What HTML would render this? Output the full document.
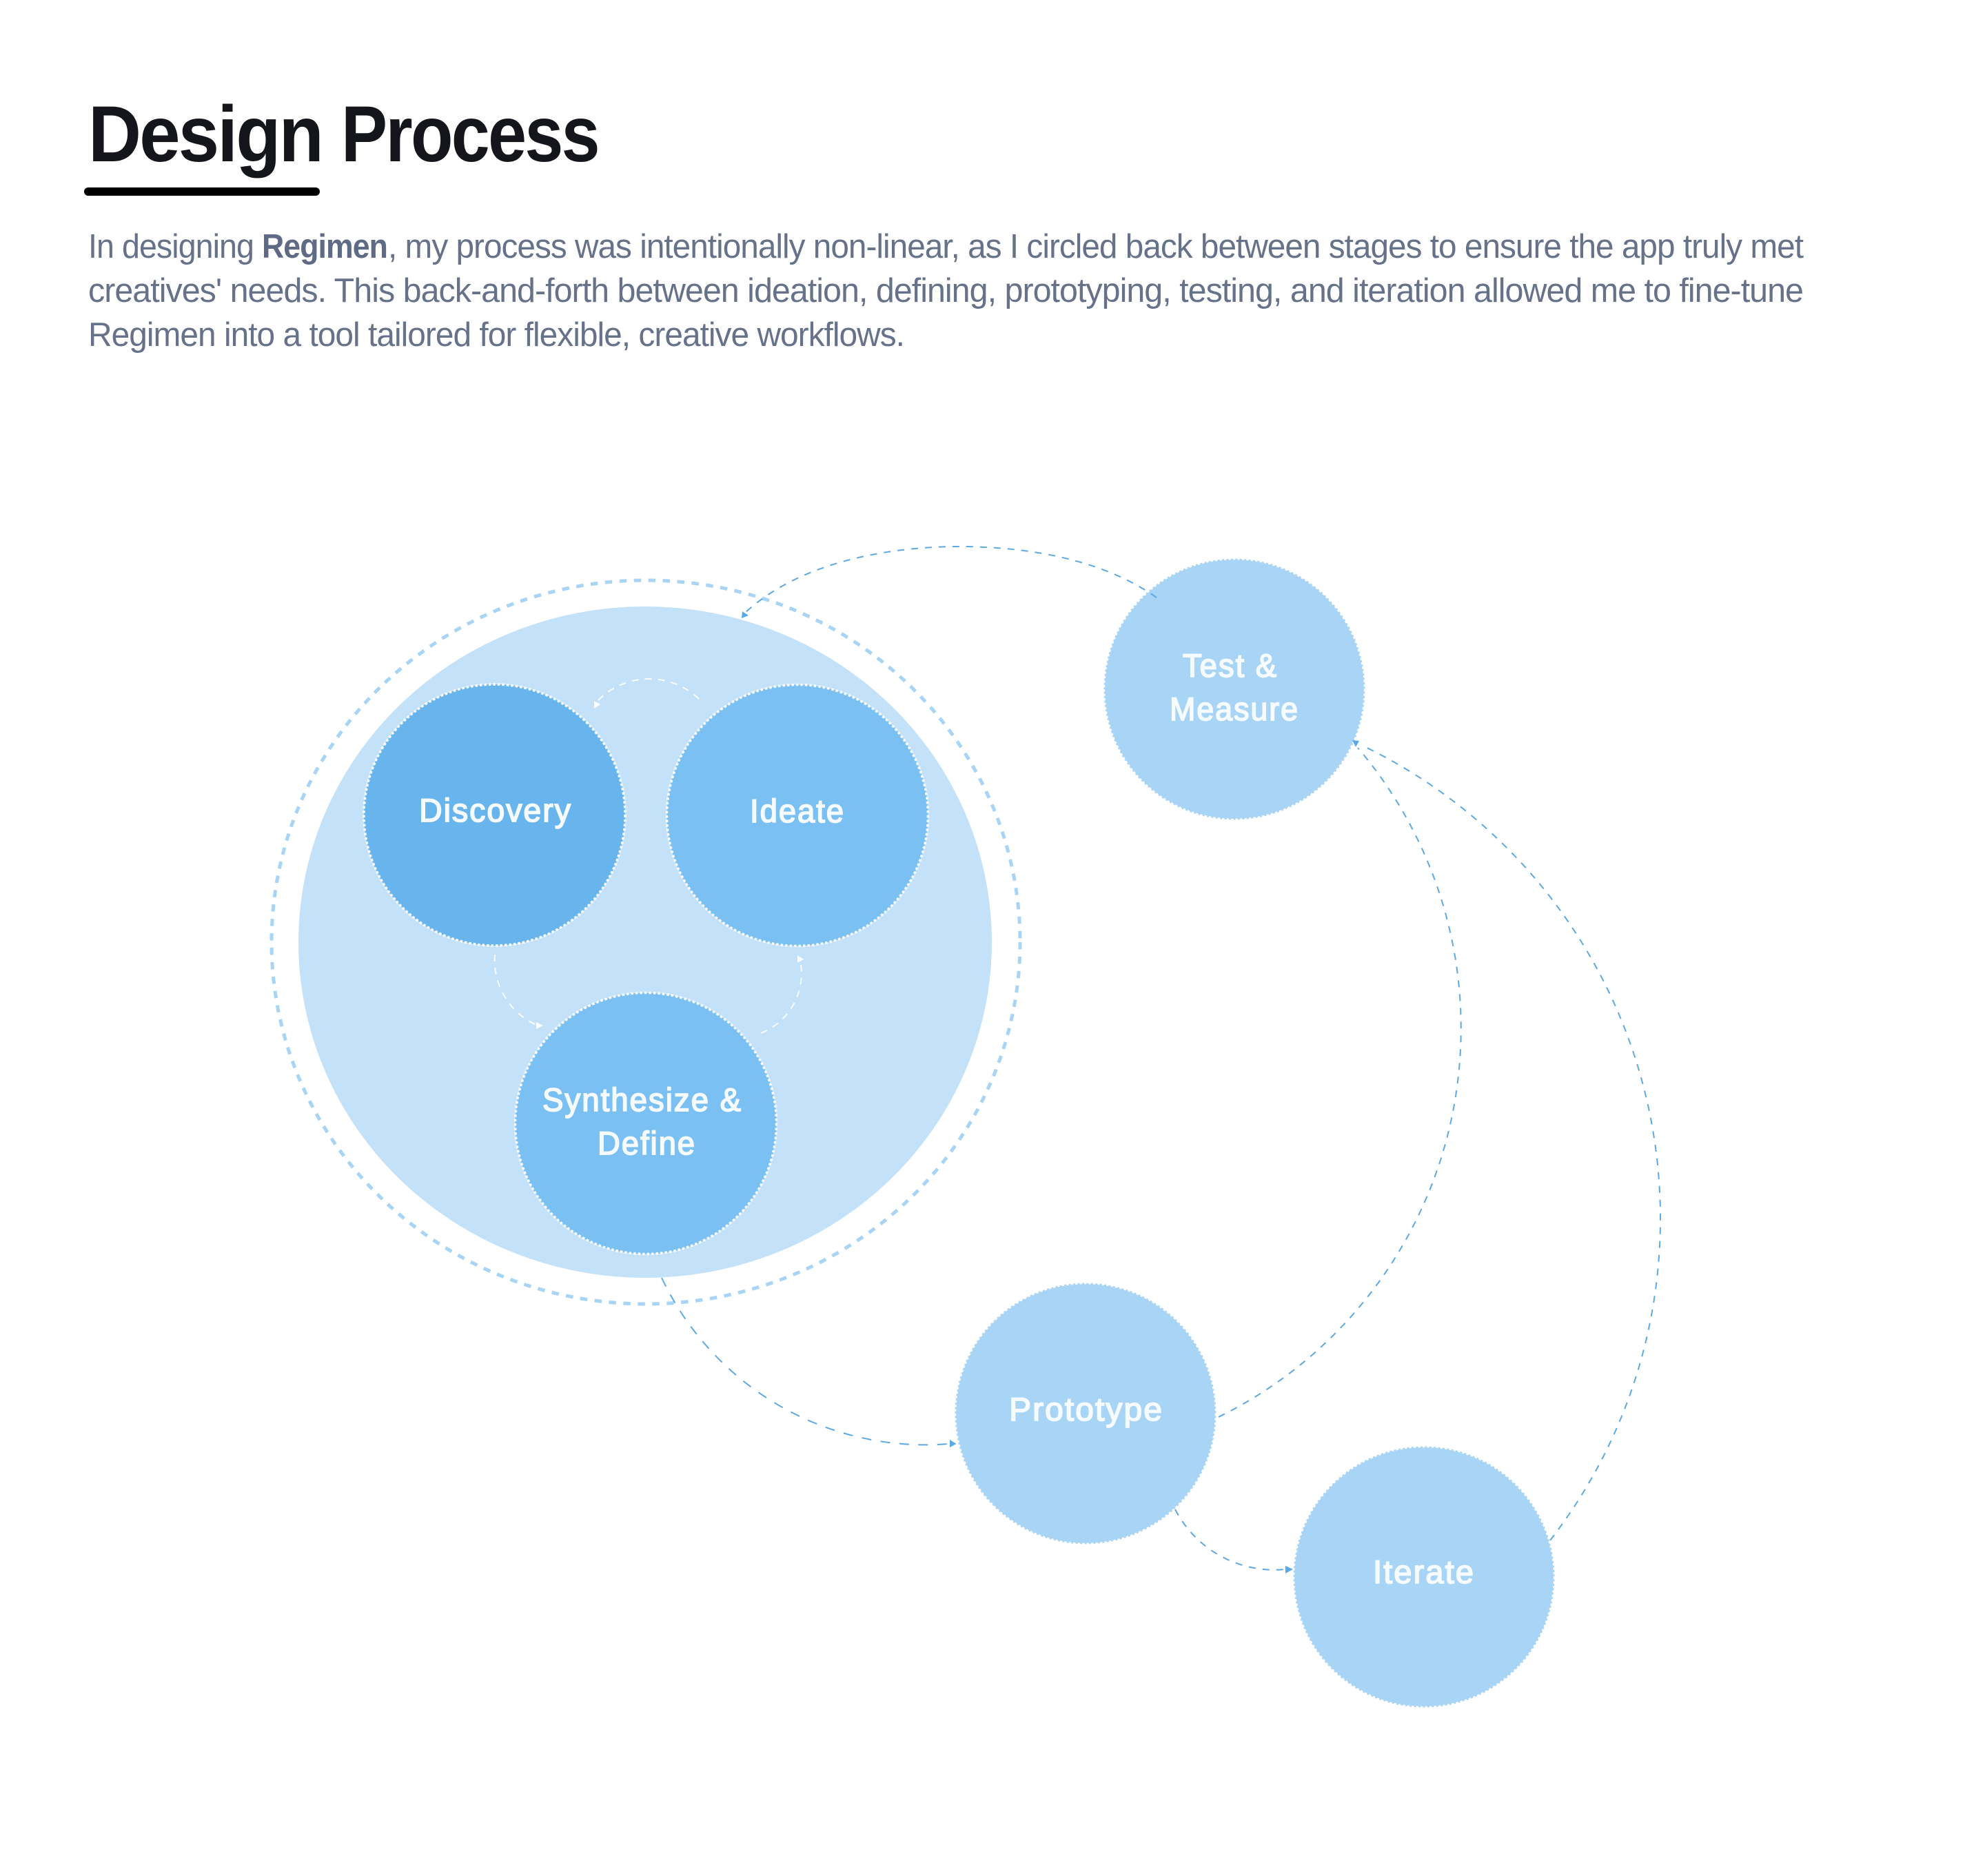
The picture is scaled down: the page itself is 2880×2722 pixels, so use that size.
<!DOCTYPE html>
<html>
<head>
<meta charset="utf-8">
<title>Design Process</title>
<style>
html,body{margin:0;padding:0;background:#fff;}
svg{display:block;}
text{font-family:"Liberation Sans",sans-serif;}
.t{font-size:115px;font-weight:700;fill:#14161b;letter-spacing:-3px;}
.p{font-size:49px;fill:#667289;letter-spacing:-1px;}
.b{font-weight:700;fill:#5f6b85;}
.l{font-size:47px;fill:#f6fbff;stroke:#f6fbff;stroke-width:1.7px;letter-spacing:2px;}
</style>
</head>
<body>
<svg xmlns="http://www.w3.org/2000/svg" width="2880" height="2722" viewBox="0 0 2880 2722">
<rect width="2880" height="2722" fill="#ffffff"/>

<text class="t" x="128" y="234" textLength="339" lengthAdjust="spacingAndGlyphs">Design</text>
<text class="t" x="495" y="234" textLength="373" lengthAdjust="spacingAndGlyphs">Process</text>
<rect x="122" y="272" width="342" height="12" rx="6" fill="#000"/>

<text class="p" x="128" y="374" textLength="240" lengthAdjust="spacingAndGlyphs">In designing</text>
<text class="p b" x="380" y="374" textLength="182" lengthAdjust="spacingAndGlyphs">Regimen</text>
<text class="p" x="563" y="374" textLength="2053" lengthAdjust="spacingAndGlyphs">, my process was intentionally non-linear, as I circled back between stages to ensure the app truly met</text>
<text class="p" x="128" y="438" textLength="2488" lengthAdjust="spacingAndGlyphs">creatives' needs. This back-and-forth between ideation, defining, prototyping, testing, and iteration allowed me to fine-tune</text>
<text class="p" x="128" y="502" textLength="1184" lengthAdjust="spacingAndGlyphs">Regimen into a tool tailored for flexible, creative workflows.</text>

<ellipse cx="937" cy="1367" rx="543" ry="525" fill="none" stroke="#a8d4f5" stroke-width="5" stroke-dasharray="10.5 10.5"/>
<ellipse cx="936" cy="1367" rx="503" ry="487" fill="#c3e2f9"/>

<g stroke="#ffffff" stroke-width="3.5" stroke-dasharray="3.5 3">
<circle cx="717.5" cy="1182.5" r="189.5" fill="#68b5ed"/>
<circle cx="1157" cy="1183" r="189.5" fill="#7ac0f2"/>
<circle cx="937" cy="1630" r="189.5" fill="#7ac0f2"/>
<circle cx="1791" cy="1000" r="189.5" fill="#a8d4f5"/>
<circle cx="1575" cy="2051" r="189.5" fill="#a8d4f5"/>
<circle cx="2066" cy="2288" r="189.5" fill="#a8d4f5"/>
</g>

<g fill="none" stroke="#5ca9e3" stroke-width="2" stroke-dasharray="10 10">
<path d="M1678 867 C1590 805 1470 792 1379 793 C1260 796 1150 825 1080 890"/>
<path d="M1768 2056 A628 628 0 0 0 1970 1085"/>
<path d="M2249 2235 A761 761 0 0 0 1975 1081"/>
<path d="M960 1854 A423 423 0 0 0 1376 2095" stroke-dasharray="14 13.5"/>
<path d="M1705 2190 A162 162 0 0 0 1865 2277"/>
</g>
<g fill="#58a9e8">
<polygon points="1077,887 1086,893 1076,897"/>
<polygon points="1378,2089 1387.5,2095 1378,2100"/>
<polygon points="1865,2272 1876,2277 1865,2283"/>
<polygon points="1962,1074 1972,1075 1967,1084"/>
</g>

<g fill="none" stroke="#ffffff" stroke-opacity="0.9" stroke-width="2" stroke-dasharray="10 9">
<path d="M1014 1014 A104 104 0 0 0 868 1016"/>
<path d="M718 1385 A103 103 0 0 0 778 1487"/>
<path d="M1104 1499 A93 93 0 0 0 1162 1400"/>
</g>
<g fill="#ffffff" fill-opacity="0.95">
<polygon points="862,1017 871,1022 862,1028"/>
<polygon points="778,1483 788,1488 778,1493"/>
<polygon points="1157,1386 1166,1392 1157,1397"/>
</g>

<text class="l" x="608" y="1192" textLength="222" lengthAdjust="spacingAndGlyphs">Discovery</text>
<text class="l" x="1088" y="1193" textLength="138" lengthAdjust="spacingAndGlyphs">Ideate</text>
<text class="l" x="787" y="1612" textLength="290" lengthAdjust="spacingAndGlyphs">Synthesize &amp;</text>
<text class="l" x="867" y="1675" textLength="143" lengthAdjust="spacingAndGlyphs">Define</text>
<text class="l" x="1716" y="982" textLength="138" lengthAdjust="spacingAndGlyphs">Test &amp;</text>
<text class="l" x="1697" y="1045" textLength="188" lengthAdjust="spacingAndGlyphs">Measure</text>
<text class="l" x="1464" y="2061" textLength="224" lengthAdjust="spacingAndGlyphs">Prototype</text>
<text class="l" x="1992" y="2297" textLength="148" lengthAdjust="spacingAndGlyphs">Iterate</text>
</svg>
</body>
</html>
